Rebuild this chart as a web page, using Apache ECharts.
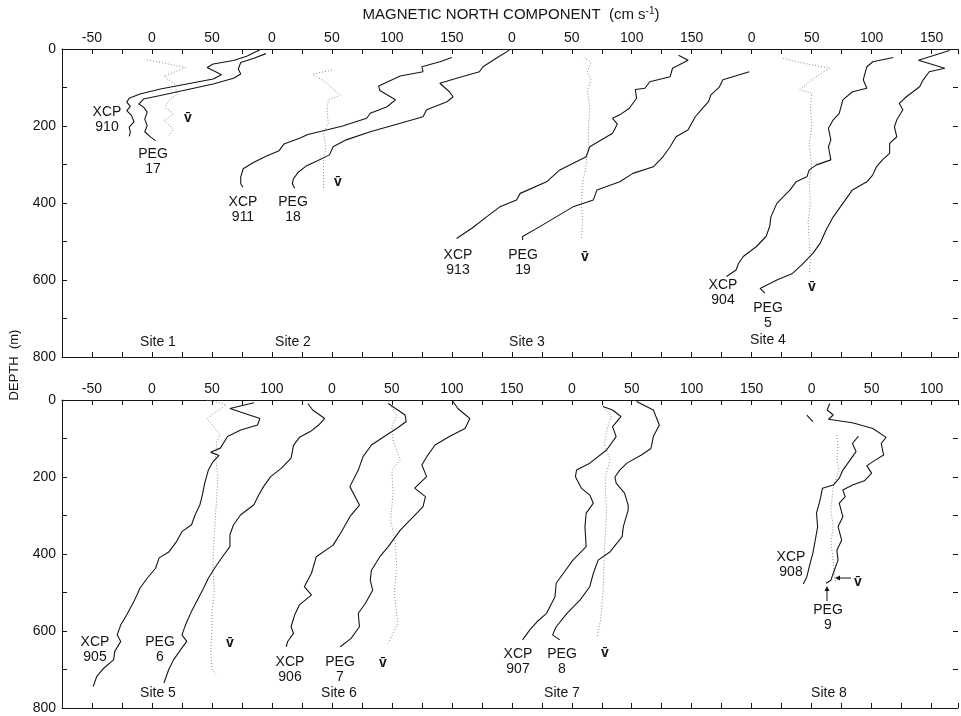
<!DOCTYPE html>
<html><head><meta charset="utf-8">
<script src="https://cdn.jsdelivr.net/npm/echarts@6/dist/echarts.min.js"></script>
<style>html,body{margin:0;padding:0;background:#fff}#c{width:961px;height:716px}</style>
</head><body><div id="c"></div>
<script>
// ---- axis tick labels (each panel shares one continuous axis; sites are shifted) ----
const topTickLabels    = ["-50","0","50","0","50","100","150","0","50","100","150","0","50","100","150"];
const bottomTickLabels = ["-50","0","50","100","0","50","100","150","0","50","100","150","0","50","100"];
const topOffsets    = [0, 100, 300, 500];   // sites 1-4
const bottomOffsets = [0, 150, 350, 550];   // sites 5-8
const depthLabels = [0, 200, 400, 600, 800];

// ---- data: [magnetic north component (cm/s), depth (m)] ----
const site1Xcp = [[90,2],[79,19],[68,30],[51,39],[46,48],[51,56],[58,67],[51,78],[29,91],[7,104],[-10,117],[-19,128],[-21,138],[-18,149],[-21,160],[-17,173],[-15,189],[-19,203],[-18,216],[-19,227]];
const site1Peg = [[95,12],[85,24],[74,35],[72,52],[74,65],[68,76],[51,91],[29,106],[7,121],[-7,130],[-11,143],[-7,151],[-4,164],[-6,182],[-4,199],[-6,215],[-1,229],[3,238]];
const site1Vbar = [[-4,28],[28,48],[10,71],[19,91],[21,117],[14,134],[11,151],[18,169],[10,186],[18,208],[14,225]];

const site2Xcp = [[150,22],[140,33],[125,46],[126,59],[107,70],[89,96],[90,108],[103,132],[96,150],[82,167],[79,180],[59,200],[42,213],[30,222],[23,232],[10,247],[6,264],[-4,277],[-15,294],[-24,311],[-26,333],[-26,350],[-24,359]];
const site2Peg = [[198,3],[187,24],[176,46],[173,59],[154,76],[140,89],[148,111],[151,124],[146,137],[129,158],[126,176],[107,193],[82,215],[62,236],[51,254],[48,275],[38,290],[29,303],[22,320],[18,337],[17,350],[19,362]];
const site2Vbar = [[50,55],[34,65],[44,85],[57,120],[47,133],[46,159],[47,193],[43,219],[45,254],[43,288],[43,332],[43,367]];

const site3Xcp = [[139,16],[147,29],[134,50],[132,72],[115,85],[111,102],[103,105],[104,128],[98,154],[90,171],[84,180],[88,195],[84,219],[65,254],[62,280],[40,314],[29,345],[7,375],[4,392],[-10,410],[-21,436],[-33,465],[-46,492]];
const site3Peg = [[198,59],[176,80],[173,99],[166,119],[164,137],[159,154],[153,176],[147,210],[137,228],[132,254],[126,280],[118,306],[101,323],[90,345],[71,366],[68,392],[51,410],[23,462],[9,487],[9,496]];
const site3Vbar = [[60,22],[66,35],[63,58],[66,80],[63,110],[65,150],[64,200],[64,250],[62,300],[59,350],[58,400],[59,450],[58,490]];

const site4Xcp = [[118,22],[101,33],[96,46],[93,80],[96,102],[84,111],[76,132],[73,167],[68,184],[64,206],[66,236],[64,254],[66,288],[54,301],[48,314],[46,332],[37,345],[32,366],[21,401],[16,436],[15,461],[12,487],[4,513],[-7,539],[-11,557],[-13,574],[-21,591]];
const site4Peg = [[165,4],[139,29],[161,50],[148,59],[143,80],[140,98],[129,124],[123,141],[126,158],[121,184],[119,202],[121,228],[115,245],[115,271],[109,288],[104,306],[101,327],[96,345],[84,366],[76,401],[68,436],[62,470],[57,505],[51,531],[43,557],[34,583],[21,600],[7,622],[11,634]];
const site4Vbar = [[26,24],[40,35],[65,50],[52,75],[40,106],[50,115],[49,150],[50,200],[48,250],[50,300],[48,350],[49,400],[47,450],[48,500],[49,550],[48,583]];

const site5Xcp = [[85,7],[65,22],[90,48],[88,65],[74,78],[63,95],[57,125],[49,136],[56,144],[51,160],[47,182],[44,216],[42,247],[40,272],[36,298],[33,324],[25,342],[20,370],[14,395],[6,410],[3,437],[-4,463],[-10,489],[-15,523],[-21,558],[-26,584],[-29,610],[-26,627],[-31,653],[-32,675],[-40,696],[-46,718],[-49,744]];
const site5Peg = [[130,9],[134,26],[144,48],[139,65],[132,82],[123,97],[118,118],[116,151],[108,177],[99,199],[93,225],[89,247],[85,272],[74,298],[68,324],[65,350],[65,381],[60,402],[53,433],[47,463],[43,489],[38,519],[33,549],[28,584],[25,610],[29,627],[25,644],[18,675],[14,700],[10,735]];
const site5Vbar = [[46,0],[62,12],[46,48],[57,91],[54,108],[53,150],[55,200],[54,250],[53,300],[52,350],[51,400],[51,450],[52,500],[50,550],[50,600],[49,650],[50,700],[54,715]];

const site6Xcp = [[47,9],[54,24],[61,39],[62,56],[54,74],[44,94],[33,117],[26,147],[22,182],[15,225],[23,273],[15,303],[8,342],[1,377],[-13,407],[-17,450],[-23,485],[-17,506],[-27,532],[-31,558],[-34,589],[-32,606],[-37,628],[-38,641]];
const site6Peg = [[101,4],[105,22],[115,48],[111,74],[98,95],[86,117],[80,143],[75,169],[79,199],[69,229],[78,251],[76,277],[68,303],[57,338],[47,381],[40,407],[33,442],[32,468],[34,494],[28,528],[22,554],[23,589],[16,619],[7,641]];
const site6Vbar = [[47,4],[54,40],[50,69],[51,104],[57,156],[50,182],[51,242],[49,312],[53,372],[54,433],[52,502],[55,580],[47,632]];

const site7Xcp = [[26,17],[34,26],[41,43],[34,69],[37,95],[29,130],[15,164],[4,182],[3,199],[8,229],[15,247],[18,268],[12,294],[11,329],[12,381],[1,416],[-7,450],[-13,476],[-14,511],[-21,554],[-29,576],[-35,597],[-41,623]];
const site7Peg = [[54,4],[68,26],[73,65],[68,95],[66,126],[58,143],[46,164],[40,182],[36,200],[37,216],[44,242],[47,273],[47,286],[43,329],[42,355],[32,394],[22,416],[18,450],[15,485],[7,519],[-4,554],[-13,589],[-16,610],[-10,623]];
const site7Vbar = [[25,13],[33,40],[30,69],[27,113],[32,156],[28,199],[28,242],[29,286],[28,346],[27,416],[26,502],[24,571],[21,615]];

const site8XcpTop = [[-4,39],[1,56]];
const site8Xcp = [[39,94],[34,113],[37,134],[32,156],[26,182],[23,203],[18,221],[9,229],[7,260],[4,294],[5,329],[3,364],[1,398],[-2,433],[-4,459],[-7,478]];
const site8Peg = [[15,9],[13,26],[18,39],[14,50],[34,59],[51,74],[62,97],[58,113],[60,143],[51,160],[46,171],[50,190],[44,210],[34,221],[26,234],[28,251],[23,268],[26,303],[22,329],[25,364],[21,390],[22,416],[18,450],[16,468],[12,476]];
const site8Vbar = [[21,91],[22,121],[21,156],[23,182],[18,225],[16,286],[18,329],[16,372],[18,416],[19,459],[20,472]];

// ---- build ----
const FONT = '"Liberation Sans", Arial, Helvetica, sans-serif';
const INK = '#151515';
const GRID_L = 62, GRID_W = 896, GRID_H = 308;
const XMIN = -75, XMAX = 672;

function shift(arr, off) { return arr.map(p => [p[0] + off, p[1]]); }

function xAxes(gridIndex, labels) {
  const common = {
    gridIndex, type: 'value', min: XMIN, max: XMAX, interval: 25,
    axisLine: { onZero: false, lineStyle: { color: INK, width: 1 } },
    axisTick: { inside: true, length: 5, lineStyle: { color: INK, width: 1 } },
    splitLine: { show: false }
  };
  return [
    Object.assign({}, common, {
      position: 'top',
      axisLabel: {
        margin: 4, fontSize: 14, color: INK, fontFamily: FONT, showMinLabel: true, showMaxLabel: true,
        formatter: v => {
          if (Math.round(v) % 50 !== 0) return '';
          const i = Math.round((v + 50) / 50);
          return labels[i] !== undefined ? labels[i] : '';
        }
      }
    }),
    Object.assign({}, common, { position: 'bottom', axisLabel: { show: false } })
  ];
}
function yAxes(gridIndex) {
  const common = {
    gridIndex, type: 'value', inverse: true, min: 0, max: 800, interval: 100,
    axisTick: { inside: true, length: 5, lineStyle: { color: INK, width: 1 } },
    splitLine: { show: false }
  };
  return [
    Object.assign({}, common, {
      position: 'left',
      axisLine: { show: true, onZero: false, lineStyle: { color: INK, width: 1 } },
      axisLabel: { margin: 6, fontSize: 14, color: INK, fontFamily: FONT,
        formatter: v => depthLabels.indexOf(v) >= 0 ? String(v) : '' }
    }),
    Object.assign({}, common, {
      position: 'right',
      axisLine: { show: false, onZero: false },
      axisLabel: { show: false }
    })
  ];
}

function lineSeries(data, xi, yi, dotted) {
  return {
    type: 'line', xAxisIndex: xi, yAxisIndex: yi, data,
    showSymbol: false, symbol: 'none', silent: true, animation: false,
    lineStyle: dotted ? { color: '#8a8a8a', width: 1, type: [1, 2] } : { color: INK, width: 1.1 }
  };
}

const topSites = [[site1Xcp, site1Peg, site1Vbar],[site2Xcp, site2Peg, site2Vbar],[site3Xcp, site3Peg, site3Vbar],[site4Xcp, site4Peg, site4Vbar]];
const bottomSites = [[site5Xcp, site5Peg, site5Vbar],[site6Xcp, site6Peg, site6Vbar],[site7Xcp, site7Peg, site7Vbar],[site8Xcp, site8Peg, site8Vbar]];

const series = [];
topSites.forEach((s, k) => {
  series.push(lineSeries(shift(s[2], topOffsets[k]), 0, 0, true));
  series.push(lineSeries(shift(s[0], topOffsets[k]), 0, 0, false));
  series.push(lineSeries(shift(s[1], topOffsets[k]), 0, 0, false));
});
bottomSites.forEach((s, k) => {
  series.push(lineSeries(shift(s[2], bottomOffsets[k]), 2, 2, true));
  series.push(lineSeries(shift(s[0], bottomOffsets[k]), 2, 2, false));
  series.push(lineSeries(shift(s[1], bottomOffsets[k]), 2, 2, false));
});
series.push(lineSeries(shift(site8XcpTop, bottomOffsets[3]), 2, 2, false));

// ---- annotations ----
function txt(text, x, y, size, extra) {
  return { type: 'text', x, y, silent: true, style: Object.assign({
    text, fontSize: size || 14, fontFamily: FONT, fill: INK, align: 'center', verticalAlign: 'middle', lineHeight: 15
  }, extra || {}) };
}
const VBAR = 'v\u0304';
const annotations = [
  txt('XCP\n910', 107, 120), txt('PEG\n17', 153, 162), txt(VBAR, 188, 118, 14, {fontWeight:'bold'}), txt('Site 1', 158, 342),
  txt('XCP\n911', 243, 210), txt('PEG\n18', 293, 210), txt(VBAR, 338, 182, 14, {fontWeight:'bold'}), txt('Site 2', 293, 342),
  txt('XCP\n913', 458, 263), txt('PEG\n19', 523, 263), txt(VBAR, 585, 257, 14, {fontWeight:'bold'}), txt('Site 3', 527, 342),
  txt('XCP\n904', 723, 293), txt('PEG\n5', 768, 316), txt(VBAR, 812, 287, 14, {fontWeight:'bold'}), txt('Site 4', 768, 340),
  txt('XCP\n905', 95, 650), txt('PEG\n6', 160, 650), txt(VBAR, 230, 643, 14, {fontWeight:'bold'}), txt('Site 5', 158, 693),
  txt('XCP\n906', 290, 670), txt('PEG\n7', 340, 670), txt(VBAR, 383, 663, 14, {fontWeight:'bold'}), txt('Site 6', 339, 693),
  txt('XCP\n907', 518, 662), txt('PEG\n8', 562, 662), txt(VBAR, 605, 653, 14, {fontWeight:'bold'}), txt('Site 7', 562, 693),
  txt('XCP\n908', 791, 565), txt('PEG\n9', 828, 618), txt(VBAR, 858, 582, 14, {fontWeight:'bold'}), txt('Site 8', 829, 693),
  { type: 'line', silent: true, shape: { x1: 851, y1: 578, x2: 838, y2: 578 }, style: { stroke: INK, lineWidth: 1 } },
  { type: 'polygon', silent: true, shape: { points: [[835,578],[840,575.5],[840,580.5]] }, style: { fill: INK } },
  { type: 'line', silent: true, shape: { x1: 827, y1: 601, x2: 827, y2: 589 }, style: { stroke: INK, lineWidth: 1 } },
  { type: 'polygon', silent: true, shape: { points: [[827,586],[824.5,591],[829.5,591]] }, style: { fill: INK } },
  { type: 'text', x: 511, y: 15, silent: true, style: {
      text: '{a|MAGNETIC NORTH COMPONENT  (cm s}{s|-1}{a|)}', align: 'center', verticalAlign: 'middle',
      rich: { a: { fontSize: 15, fontFamily: FONT, fill: INK, lineHeight: 17 },
              s: { fontSize: 10, fontFamily: FONT, fill: INK, lineHeight: 17, verticalAlign: 'top', padding: [0,0,7,0] } } } },
  { type: 'text', x: 14, y: 365, rotation: Math.PI / 2, silent: true, style: {
      text: 'DEPTH  (m)', fontSize: 13, fontFamily: FONT, fill: INK, align: 'center', verticalAlign: 'middle' } }
];

const chart = echarts.init(document.getElementById('c'), null, { renderer: 'canvas' });
chart.setOption({
  animation: false,
  backgroundColor: '#ffffff',
  grid: [
    { left: GRID_L, top: 49, width: GRID_W, height: GRID_H },
    { left: GRID_L, top: 400, width: GRID_W, height: GRID_H }
  ],
  xAxis: [].concat(xAxes(0, topTickLabels), xAxes(1, bottomTickLabels)),
  yAxis: [].concat(yAxes(0), yAxes(1)),
  series,
  graphic: annotations
});
</script></body></html>
